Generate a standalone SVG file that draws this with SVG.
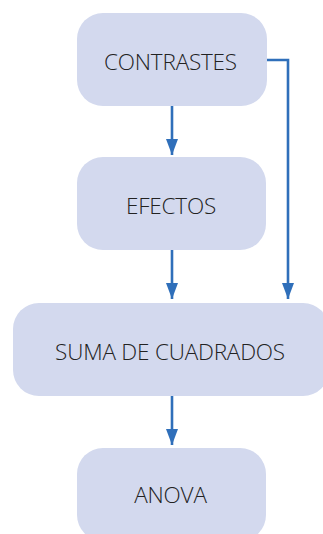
<svg xmlns="http://www.w3.org/2000/svg" width="323" height="534" viewBox="0 0 323 534">
<style>
.box{fill:#d3d9ee;}
.lbl{font-family:"Open Sans","Noto Sans",sans-serif;font-size:22.5px;font-weight:300;letter-spacing:-0.2px;fill:#222;text-anchor:middle;}
.con{fill:none;stroke:#2f6fba;stroke-width:2.6;marker-end:url(#ah);}
</style>
<defs>
<marker id="ah" markerWidth="16" markerHeight="12" viewBox="0 0 16 12" refX="16" refY="6" orient="auto" markerUnits="userSpaceOnUse">
<path d="M0,0 L16,6 L0,12 z" fill="#2f6fba"/>
</marker>
</defs>
<g id="connectors">
<path class="con" d="M172,106 V155"/>
<path class="con" d="M172,250 V299"/>
<path class="con" d="M172,396 V445"/>
<path class="con" d="M267,60 H288 V299"/>
</g>
<g id="n-contrastes"><rect class="box" x="77" y="13" width="190" height="93" rx="26"/><text class="lbl" x="170.5" y="70">CONTRASTES</text></g>
<g id="n-efectos"><rect class="box" x="77" y="157" width="189" height="93" rx="26"/><text class="lbl" x="171" y="214">EFECTOS</text></g>
<g id="n-suma"><rect class="box" x="13" y="303" width="316" height="93" rx="26"/><text class="lbl" x="170" y="360">SUMA DE CUADRADOS</text></g>
<g id="n-anova"><rect class="box" x="77" y="448" width="189" height="93" rx="26"/><text class="lbl" x="170.5" y="503">ANOVA</text></g>
</svg>
